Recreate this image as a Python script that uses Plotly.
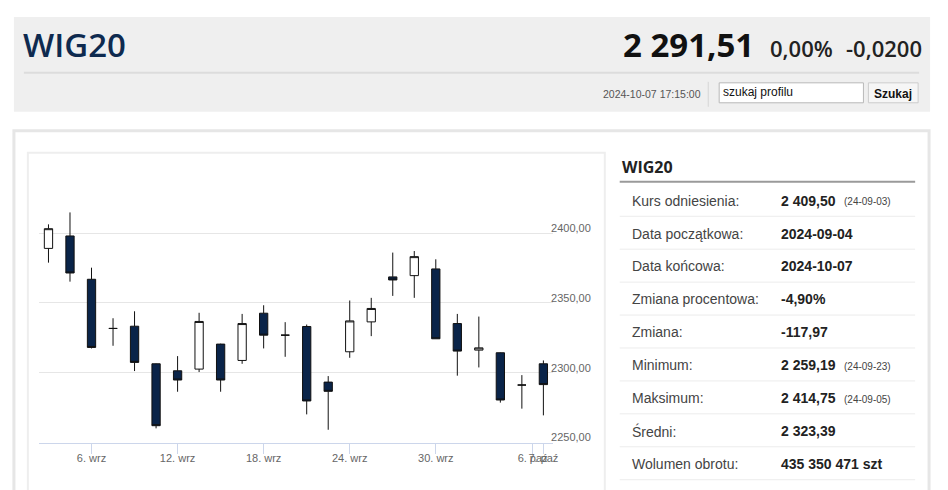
import plotly.graph_objects as go

W, H = 948, 490
NAVY = '#0a2449'
FONT = 'Liberation Sans, Arial, sans-serif'
HEAD_FONT = 'Open Sans, Liberation Sans, sans-serif'

# daily candles, trading days only (ordinal axis)
dates = ['2024-09-04', '2024-09-05', '2024-09-06', '2024-09-09', '2024-09-10', '2024-09-11',
         '2024-09-12', '2024-09-13', '2024-09-16', '2024-09-17', '2024-09-18', '2024-09-19',
         '2024-09-20', '2024-09-23', '2024-09-24', '2024-09-25', '2024-09-26', '2024-09-27',
         '2024-09-30', '2024-10-01', '2024-10-02', '2024-10-03', '2024-10-04', '2024-10-07']
opens = [2389.0, 2397.9, 2366.9, 2331.7, 2333.3, 2306.4, 2301.4, 2302.6, 2320.5, 2308.8, 2342.6, 2326.9,
         2333.1, 2293.3, 2315.0, 2336.4, 2368.6, 2369.5, 2374.3, 2335.2, 2316.2, 2314.3, 2291.2, 2306.4]
highs = [2406.2, 2414.75, 2375.2, 2339.0, 2344.0, 2306.6, 2311.9, 2342.9, 2320.8, 2342.1, 2348.3, 2336.2,
         2334.5, 2297.6, 2351.7, 2353.6, 2386.0, 2387.1, 2381.2, 2342.1, 2340.2, 2314.5, 2298.3, 2308.8]
lows = [2378.8, 2365.2, 2317.4, 2319.3, 2301.2, 2260.2, 2286.4, 2300.5, 2286.4, 2306.4, 2317.4, 2311.4,
        2270.2, 2259.19, 2310.7, 2326.2, 2355.0, 2353.6, 2324.3, 2297.9, 2303.8, 2278.6, 2274.3, 2269.5]
closes = [2403.1, 2371.4, 2318.1, 2331.7, 2307.4, 2262.1, 2294.8, 2336.7, 2294.8, 2335.2, 2326.9, 2326.9,
          2279.8, 2286.7, 2337.1, 2346.0, 2366.4, 2383.1, 2324.3, 2315.5, 2317.8, 2280.5, 2291.2, 2291.51]

tick_pos = [2, 6, 10, 14, 18, 22.5, 23]
tick_labels = ['6. wrz', '12. wrz', '18. wrz', '24. wrz', '30. wrz', '6. paź', '7. paź']
y_ticks = [2250, 2300, 2350, 2400, 2450]
y_labels = ['2250,00', '2300,00', '2350,00', '2400,00', '']

title = 'WIG20'
last_price = '2 291,51'
change_pct = '0,00%'
change_abs = '-0,0200'
timestamp = '2024-10-07 17:15:00'

row_labels = ['Kurs odniesienia:', 'Data początkowa:', 'Data końcowa:', 'Zmiana procentowa:',
              'Zmiana:', 'Minimum:', 'Maksimum:', 'Średni:', 'Wolumen obrotu:']
row_values = ['2 409,50', '2024-09-04', '2024-10-07', '-4,90%', '-117,97',
              '2 259,19', '2 414,75', '2 323,39', '435 350 471 szt']
row_dates = ['(24-09-03)', '', '', '', '', '(24-09-23)', '(24-09-05)', '', '']


def px(x):
    return x / W


def py(y):
    return 1 - y / H


fig = go.Figure()
fig.add_trace(go.Candlestick(
    x=list(range(len(dates))),
    open=opens, high=highs, low=lows, close=closes,
    text=dates,
    increasing=dict(fillcolor='white', line=dict(color='#111111', width=1)),
    decreasing=dict(fillcolor=NAVY, line=dict(color='#111111', width=1)),
    whiskerwidth=0,
    showlegend=False,
))

shapes = []
annotations = []


def rect(x0, y0, x1, y1, fill='rgba(0,0,0,0)', line='rgba(0,0,0,0)', lw=1):
    shapes.append(dict(type='rect', xref='paper', yref='paper', x0=px(x0), x1=px(x1),
                       y0=py(y1), y1=py(y0), fillcolor=fill, line=dict(color=line, width=lw),
                       layer='below'))


def hline(x0, x1, y, color, lw=1):
    shapes.append(dict(type='line', xref='paper', yref='paper', x0=px(x0), x1=px(x1),
                       y0=py(y), y1=py(y), line=dict(color=color, width=lw), layer='below'))


def text(x, y, s, size, color='#222', anchor='left', weight='normal', family=FONT):
    annotations.append(dict(xref='paper', yref='paper', x=px(x), y=py(y), text=s,
                            showarrow=False, xanchor=anchor, yanchor='middle',
                            font=dict(family=family, size=size, color=color, weight=weight)))


# header
rect(14, 17, 935, 112, fill='#efefef')
hline(24, 924, 73, '#dcdcdc', 2)
text(21, 45, title, 33, color='#0e2a4f', weight=600, family=HEAD_FONT)
text(760, 45, last_price, 33, color='#111', anchor='right', weight='bold', family=HEAD_FONT)
text(772, 48.5, change_pct, 22, color='#222', weight=600, family=HEAD_FONT)
text(848, 48.5, change_abs, 22, color='#222', weight=600, family=HEAD_FONT)
text(604, 94, timestamp, 10.5, color='#555')
shapes.append(dict(type='line', xref='paper', yref='paper', x0=px(712), x1=px(712),
                   y0=py(107), y1=py(82), line=dict(color='#d5d5d5', width=1), layer='below'))
rect(723, 83, 868, 103, fill='white', line='#b8b8b8')
text(725, 92, 'szukaj profilu', 12, color='#111')
rect(873, 83, 923, 103, fill='#f6f6f6', line='#cccccc')
text(898, 94, 'Szukaj', 12, color='#111', anchor='center', weight='bold')

# panels
rect(14, 131, 934, 520, fill='white', line='#e6e6e6', lw=3)
rect(28, 153, 608, 520, fill='white', line='#eeeeee', lw=2)

# side table
text(623, 167, title, 16, color='#222', weight='bold', family=HEAD_FONT)
hline(623, 920, 182, '#9a9a9a', 2)
for i, (lab, val, dt) in enumerate(zip(row_labels, row_values, row_dates)):
    yc = 201 + 33 * i
    text(633, yc, lab, 14, color='#444')
    text(783, yc, val, 14, color='#222', weight='bold')
    if dt:
        text(846, yc + 1, dt, 10, color='#444')
    hline(623, 920, yc + 15.7, '#ececec', 1)

fig.update_layout(
    width=W, height=H,
    margin=dict(l=0, r=0, t=0, b=0),
    paper_bgcolor='white',
    plot_bgcolor='rgba(0,0,0,0)',
    boxgap=0.45,
    shapes=shapes,
    annotations=annotations,
    font=dict(family=FONT),
    xaxis=dict(
        domain=[px(39), px(556)],
        range=[-0.45, 23.45],
        rangeslider=dict(visible=False),
        showgrid=False, zeroline=False,
        showline=True, linecolor='#ccd6eb', linewidth=1,
        ticks='outside', ticklen=10, tickcolor='#ccd6eb', tickwidth=1,
        tickvals=tick_pos, ticktext=tick_labels, tickangle=0,
        ticklabelstandoff=-5,
        tickfont=dict(size=11, color='#666666'),
    ),
    yaxis=dict(
        domain=[py(443.5), py(163.5)],
        range=[2250, 2450],
        side='right',
        showgrid=True, gridcolor='#e6e6e6', gridwidth=1,
        zeroline=False, showline=False, ticks='',
        tickvals=y_ticks, ticktext=y_labels,
        ticklabelstandoff=-3, ticklabelshift=-5,
        tickfont=dict(size=11, color='#666666'),
    ),
)

# drop the default page margin so the figure sits at the window's corner
fig.write_html("out.html", config={'displayModeBar': False},
               post_script="document.body.style.margin = '0';")
